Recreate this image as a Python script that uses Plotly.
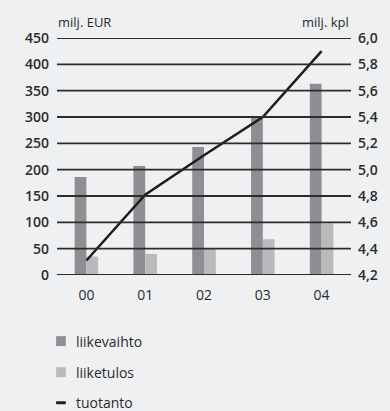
import plotly.graph_objects as go

# Data
years = ["00", "01", "02", "03", "04"]
liikevaihto = [186, 207, 243, 298, 363]      # milj. EUR
liiketulos = [35, 40, 50, 68, 98]            # milj. EUR
tuotanto = [4.31, 4.81, 5.11, 5.40, 5.90]    # milj. kpl

left_ticks = list(range(0, 451, 50))
right_ticks = [4.2, 4.4, 4.6, 4.8, 5.0, 5.2, 5.4, 5.6, 5.8, 6.0]

BG = "#eff0f2"
DARK = "#8e8f92"
LIGHT = "#bababc"
LINE = "#1e1e1e"
GRID = "#2c2c2c"
TEXT = "#2b2b2b"
FONT = "Open Sans"

fig = go.Figure()
fig.add_trace(go.Bar(x=years, y=liikevaihto, name="liikevaihto",
                     marker=dict(color=DARK, line=dict(width=0))))
fig.add_trace(go.Bar(x=years, y=liiketulos, name="liiketulos",
                     marker=dict(color=LIGHT, line=dict(width=0))))

# Horizontal rules at every left-axis tick, drawn as a trace over the bars
rule_x, rule_y = [], []
for t in left_ticks:
    rule_x += [-0.5, 4.5, None]
    rule_y += [t, t, None]
fig.add_trace(go.Scatter(x=rule_x, y=rule_y, mode="lines", hoverinfo="skip",
                         line=dict(color=GRID, width=1.8), xaxis="x2"))

fig.add_trace(go.Scatter(x=years, y=tuotanto, name="tuotanto", yaxis="y2",
                         mode="lines", line=dict(color=LINE, width=2.5)))

fig.update_layout(
    width=390, height=411,
    margin=dict(l=57, r=31, t=38, b=136),
    paper_bgcolor=BG, plot_bgcolor=BG,
    barmode="group", bargap=0.6, bargroupgap=0,
    showlegend=False,
    separators=",.",
    font=dict(family=FONT, color=TEXT, size=13),
    xaxis=dict(showgrid=False, zeroline=False, showline=False, ticks="",
               tickfont=dict(size=14, color=TEXT), ticklabelstandoff=10),
    xaxis2=dict(range=[-0.5, 4.5], overlaying="x", visible=False),
    yaxis=dict(range=[0, 450], tickvals=left_ticks, showgrid=False,
               zeroline=False, showline=False, ticks="", ticklabelstandoff=7,
               tickfont=dict(size=14, color=TEXT, weight=600)),
    yaxis2=dict(range=[4.2, 6.0], tickvals=right_ticks, tickformat=".1f",
                overlaying="y", side="right", showgrid=False, zeroline=False,
                showline=False, ticks="", ticklabelstandoff=6,
                tickfont=dict(size=14, color=TEXT, weight=600)),
)

# Axis unit captions
fig.add_annotation(text="milj. EUR", xref="paper", yref="paper", x=-0.005, y=1,
                   xanchor="left", yanchor="bottom", yshift=5, showarrow=False,
                   font=dict(size=13, color=TEXT))
fig.add_annotation(text="milj. kpl", xref="paper", yref="paper", x=1, y=1,
                   xanchor="right", yanchor="bottom", yshift=5, showarrow=False,
                   font=dict(size=13, color=TEXT))

# Legend drawn below the plot
legend_items = [("liikevaihto", DARK, "box"), ("liiketulos", LIGHT, "box"),
                ("tuotanto", LINE, "line")]
row_y = [-0.279, -0.410, -0.539]
for (label, color, kind), yy in zip(legend_items, row_y):
    if kind == "box":
        fig.add_shape(type="rect", xref="paper", yref="paper",
                      x0=-0.003, x1=0.030, y0=yy - 0.021, y1=yy + 0.021,
                      fillcolor=color, line=dict(width=0))
    else:
        fig.add_shape(type="line", xref="paper", yref="paper",
                      x0=-0.003, x1=0.030, y0=yy, y1=yy,
                      line=dict(color=color, width=3))
    fig.add_annotation(text=label, xref="paper", yref="paper", x=0.058, y=yy,
                       xanchor="left", yanchor="middle", showarrow=False,
                       font=dict(size=14, color=TEXT))

fig.write_html("out.html")
